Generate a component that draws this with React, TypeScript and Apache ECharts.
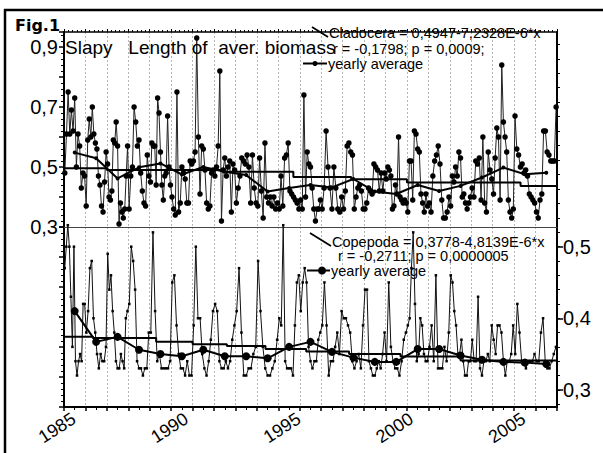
import React, { useEffect, useRef } from "react";
import * as echarts from "echarts";

// Cladocera: values per year (year index 0..22)
const cladocera: number[][] = [
  [0.48, 0.61, 0.75, 0.61, 0.69, 0.62, 0.73, 0.50, 0.61, 0.57, 0.43, 0.48, 0.47],
  [0.37, 0.59, 0.66, 0.60, 0.70, 0.61, 0.58, 0.56, 0.47, 0.44, 0.37, 0.35, 0.45, 0.55],
  [0.51, 0.40, 0.39, 0.42, 0.59, 0.58, 0.65, 0.57, 0.31, 0.38, 0.35, 0.33, 0.36, 0.47, 0.57],
  [0.36, 0.47, 0.50, 0.70, 0.65, 0.57, 0.59, 0.48, 0.42, 0.38, 0.37, 0.54, 0.47],
  [0.45, 0.58, 0.57, 0.57, 0.44, 0.73, 0.68, 0.55, 0.44, 0.39, 0.47, 0.48, 0.67, 0.50, 0.44],
  [0.40, 0.36, 0.34, 0.75, 0.35, 0.38, 0.50, 0.48, 0.46, 0.38, 0.38, 0.52, 0.51],
  [0.52, 0.55, 0.93, 0.60, 0.41, 0.57, 0.56, 0.49, 0.38, 0.36, 0.37, 0.48, 0.49],
  [0.47, 0.50, 0.57, 0.82, 0.32, 0.49, 0.53, 0.47, 0.50, 0.52, 0.35, 0.51, 0.49],
  [0.38, 0.43, 0.47, 0.53, 0.52, 0.51, 0.54, 0.50, 0.38, 0.54, 0.43, 0.38],
  [0.37, 0.53, 0.42, 0.33, 0.58, 0.40, 0.38, 0.40, 0.37, 0.40, 0.36, 0.38],
  [0.36, 0.47, 0.37, 0.53, 0.54, 0.58, 0.42, 0.41, 0.40, 0.39, 0.38, 0.36],
  [0.39, 0.36, 0.74, 0.40, 0.55, 0.51, 0.50, 0.43, 0.36, 0.32, 0.36, 0.36, 0.39],
  [0.36, 0.43, 0.62, 0.50, 0.43, 0.36, 0.50, 0.43, 0.36, 0.35, 0.40],
  [0.36, 0.42, 0.57, 0.58, 0.55, 0.54, 0.36, 0.40, 0.43, 0.44, 0.42, 0.36],
  [0.36, 0.38, 0.43, 0.42, 0.41, 0.51, 0.50, 0.49, 0.42, 0.48, 0.42, 0.48],
  [0.46, 0.50, 0.49, 0.47, 0.36, 0.37, 0.44, 0.41, 0.60, 0.40, 0.39, 0.38, 0.39, 0.38],
  [0.35, 0.52, 0.52, 0.39, 0.62, 0.61, 0.56, 0.55, 0.41, 0.38, 0.35, 0.41, 0.37],
  [0.38, 0.35, 0.47, 0.52, 0.54, 0.57, 0.51, 0.39, 0.33, 0.33, 0.35, 0.40],
  [0.37, 0.47, 0.45, 0.50, 0.47, 0.55, 0.53, 0.40, 0.41, 0.38, 0.36, 0.38, 0.40],
  [0.43, 0.40, 0.52, 0.51, 0.53, 0.39, 0.60, 0.38, 0.35, 0.55, 0.49, 0.46],
  [0.41, 0.53, 0.63, 0.60, 0.39, 0.84, 0.65, 0.60, 0.55, 0.39, 0.35, 0.33, 0.36],
  [0.67, 0.56, 0.54, 0.50, 0.51, 0.48, 0.49, 0.47, 0.41, 0.40, 0.39, 0.38],
  [0.35, 0.33, 0.39, 0.41, 0.62, 0.62, 0.55, 0.54, 0.52, 0.52, 0.52, 0.70],
];
const cladoceraAvg = [
  0.548, 0.529, 0.462, 0.499, 0.512, 0.475, 0.500, 0.484, 0.473, 0.418, 0.430, 0.440,
  0.432, 0.460, 0.418, 0.410, 0.440, 0.420, 0.437, 0.465, 0.498, 0.476, 0.481,
];
const cladTrendBreaks = [0, 2.0, 7.5, 10.7, 13.4, 16.0, 21.3, 23];
const cladTrendLevels = [0.496, 0.490, 0.484, 0.467, 0.459, 0.448, 0.437];

// Copepoda: values per year
const copepoda: number[][] = [
  [0.47, 0.50, 0.53, 0.50, 0.43, 0.36, 0.50, 0.34, 0.32, 0.34, 0.35, 0.34, 0.42, 0.42],
  [0.38, 0.41, 0.47, 0.48, 0.40, 0.38, 0.35, 0.33, 0.35, 0.34, 0.34, 0.36],
  [0.49, 0.44, 0.46, 0.41, 0.38, 0.34, 0.33, 0.33, 0.35, 0.34, 0.33, 0.40, 0.41],
  [0.42, 0.50, 0.48, 0.44, 0.34, 0.33, 0.33, 0.32, 0.33, 0.33, 0.38],
  [0.38, 0.52, 0.41, 0.34, 0.35, 0.33, 0.33, 0.33, 0.33, 0.34],
  [0.45, 0.46, 0.39, 0.35, 0.33, 0.33, 0.32, 0.34, 0.32, 0.32],
  [0.39, 0.50, 0.40, 0.40, 0.35, 0.33, 0.32, 0.34, 0.37, 0.41],
  [0.42, 0.41, 0.34, 0.33, 0.33, 0.34, 0.33, 0.34, 0.37, 0.39],
  [0.41, 0.47, 0.38, 0.32, 0.32, 0.33, 0.33, 0.35, 0.36],
  [0.48, 0.41, 0.36, 0.33, 0.32, 0.32, 0.33, 0.34, 0.37],
  [0.40, 0.39, 0.53, 0.34, 0.33, 0.33, 0.33, 0.32, 0.39, 0.45, 0.46],
  [0.41, 0.45, 0.47, 0.45, 0.36, 0.34, 0.33, 0.34, 0.34, 0.37, 0.38],
  [0.39, 0.45, 0.39, 0.32, 0.34, 0.34, 0.36, 0.38, 0.35, 0.41],
  [0.40, 0.40, 0.39, 0.38, 0.34, 0.33, 0.34, 0.35, 0.33, 0.39],
  [0.44, 0.44, 0.34, 0.33, 0.32, 0.32, 0.33, 0.34, 0.33, 0.35, 0.38],
  [0.34, 0.45, 0.36, 0.34, 0.33, 0.33, 0.32, 0.34, 0.37, 0.38],
  [0.39, 0.40, 0.47, 0.52, 0.42, 0.34, 0.35, 0.40, 0.39, 0.35, 0.34, 0.34],
  [0.36, 0.39, 0.34, 0.46, 0.33, 0.33, 0.33, 0.36, 0.34, 0.38],
  [0.46, 0.45, 0.41, 0.39, 0.35, 0.35, 0.37, 0.34, 0.32, 0.32, 0.34, 0.34],
  [0.37, 0.34, 0.34, 0.43, 0.33, 0.32, 0.34, 0.34, 0.35, 0.34, 0.39],
  [0.37, 0.35, 0.39, 0.39, 0.38, 0.34, 0.32, 0.34, 0.34, 0.35, 0.39],
  [0.35, 0.42, 0.38, 0.34, 0.34, 0.33, 0.34, 0.34, 0.34, 0.35],
  [0.34, 0.34, 0.38, 0.40, 0.34, 0.33, 0.33, 0.34, 0.35, 0.36],
];
const copepodaAvg = [
  0.410, 0.367, 0.374, 0.356, 0.350, 0.347, 0.356, 0.347, 0.347, 0.344, 0.360, 0.367,
  0.353, 0.345, 0.339, 0.339, 0.357, 0.357, 0.348, 0.342, 0.339, 0.338, 0.336,
];
const copTrendBreaks = [0, 1.35, 4.3, 6.0, 7.6, 9.4, 11.3, 13.3, 15.7, 18.5, 23];
const copTrendLevels = [0.3743, 0.3725, 0.3673, 0.3637, 0.3613, 0.3571, 0.3534, 0.3501, 0.3464, 0.341];

const yearLabels = [1985, 1990, 1995, 2000, 2005];
const leftTickLabels = [0.3, 0.5, 0.7, 0.9];
const rightTickLabels = [0.3, 0.4, 0.5];
const rightMinorTicks = [0.28, 0.3, 0.32, 0.34, 0.36, 0.38, 0.4, 0.42, 0.44, 0.46, 0.48, 0.5, 0.52];
const rightTopTicks = [0.54, 0.56, 0.58, 0.6, 0.62, 0.64, 0.66, 0.68, 0.7, 0.72, 0.74, 0.76, 0.78];

const titleText = "Slapy\u00a0\u00a0 Length of\u00a0 aver. biomass";
const cladLegend1 = "Cladocera = 0,4947-7,2328E-6*x";
const cladLegend2 = "r = -0,1798; p = 0,0009;";
const copLegend1 = "Copepoda = 0,3778-4,8139E-6*x";
const copLegend2 = "r = -0,2711; p = 0,0000005";
const avgLegend = "yearly average";

function spread(years: number[][]) {
  const out: number[][] = [];
  years.forEach((vals, k) =>
    vals.forEach((v, i) => out.push([k + (i + 0.5) / vals.length, v]))
  );
  return out;
}
function yearly(vals: number[]) {
  return vals.map((v, k) => [k + 0.5, v]);
}
function steps(breaks: number[], levels: number[]) {
  const out: number[][] = [];
  levels.forEach((l, i) => {
    out.push([breaks[i], l]);
    out.push([breaks[i + 1], l]);
  });
  return out;
}
const fmt = (v: number) => v.toFixed(1).replace(".", ",");

const FONT = "'Liberation Sans', Arial, sans-serif";
const BLACK = "#000";
const LEG = `14.5px ${FONT}`;

export default function App() {
  const ref = useRef<HTMLDivElement>(null);
  useEffect(() => {
    if (!ref.current) return;
    const chart = echarts.init(ref.current, undefined, { renderer: "svg" });
    const axisLineStyle = { color: BLACK, width: 2 };
    const legendText = (text: string, x: number, y: number) => ({
      type: "text", x, y, z: 10,
      style: { text, font: LEG, fill: BLACK, textAlign: "left", textVerticalAlign: "middle" },
    });
    const option: any = {
      animation: false,
      backgroundColor: "#fff",
      grid: [
        { left: 64, top: 32, width: 493, height: 195 },
        { left: 64, top: 227, width: 493, height: 180 },
      ],
      xAxis: [
        {
          gridIndex: 0, type: "value", min: 0, max: 23, interval: 1, position: "bottom",
          axisLine: { show: true, onZero: false, lineStyle: { color: "#444", width: 1 } },
          axisTick: { show: false }, axisLabel: { show: false },
          splitLine: { show: true, lineStyle: { color: "#b5b5b5", type: [2, 2], width: 1 } },
        },
        {
          gridIndex: 0, type: "value", min: 0, max: 23, interval: 1, position: "top",
          axisLine: { show: true, onZero: false, lineStyle: { color: BLACK, width: 1.5 } },
          axisTick: { show: true, length: 3, lineStyle: { color: BLACK } },
          minorTick: { show: true, splitNumber: 5, length: 2, lineStyle: { color: BLACK } },
          axisLabel: { show: false }, splitLine: { show: false },
        },
        {
          gridIndex: 1, type: "value", min: 0, max: 23, interval: 1, position: "bottom",
          axisLine: { show: true, onZero: false, lineStyle: axisLineStyle },
          axisTick: { show: true, length: 4, lineStyle: { color: BLACK, width: 1.5 } },
          minorTick: { show: true, splitNumber: 2, length: 3, lineStyle: { color: BLACK } },
          axisLabel: { show: false },
          splitLine: { show: true, lineStyle: { color: "#b5b5b5", type: [2, 2], width: 1 } },
        },
        {
          gridIndex: 1, type: "value", min: 1984.56, max: 2006.48, position: "bottom",
          axisLine: { show: false, onZero: false }, axisTick: { show: false }, splitLine: { show: false },
          axisLabel: {
            customValues: yearLabels, rotate: 33, margin: 10,
            formatter: (v: number) => String(Math.round(v)),
            fontSize: 18, color: BLACK, fontFamily: FONT,
          },
        },
      ],
      yAxis: [
        {
          gridIndex: 0, type: "value", position: "left", min: 0.3, max: 0.95, interval: 0.1,
          axisLine: { show: true, onZero: false, lineStyle: axisLineStyle },
          axisTick: { show: true, length: 5, lineStyle: { color: BLACK, width: 1.5 } },
          minorTick: { show: true, splitNumber: 5, length: 3, lineStyle: { color: BLACK } },
          splitLine: { show: false },
          axisLabel: { customValues: leftTickLabels, formatter: fmt, fontSize: 20, color: BLACK, fontFamily: FONT, margin: 6 },
        },
        {
          gridIndex: 0, type: "value", position: "right", min: 0.5275, max: 0.797,
          axisLine: { show: true, onZero: false, lineStyle: axisLineStyle },
          axisTick: { show: true, customValues: rightTopTicks, length: 3, lineStyle: { color: BLACK } },
          axisLabel: { show: false }, splitLine: { show: false },
        },
        {
          gridIndex: 1, type: "value", position: "left", min: -0.3, max: 0.3, interval: 0.1,
          axisLine: { show: true, onZero: false, lineStyle: axisLineStyle },
          axisTick: { show: true, length: 5, lineStyle: { color: BLACK, width: 1.5 } },
          minorTick: { show: true, splitNumber: 5, length: 3, lineStyle: { color: BLACK } },
          axisLabel: { show: false }, splitLine: { show: false },
        },
        {
          gridIndex: 1, type: "value", position: "right", min: 0.276, max: 0.5275,
          axisLine: { show: true, onZero: false, lineStyle: axisLineStyle },
          axisTick: { show: true, customValues: rightTickLabels, length: 6, lineStyle: { color: BLACK, width: 1.5 } },
          axisLabel: { customValues: rightTickLabels, formatter: fmt, fontSize: 20, color: BLACK, fontFamily: FONT, margin: 6 },
          splitLine: { show: false },
        },
        {
          gridIndex: 1, type: "value", position: "right", min: 0.276, max: 0.5275,
          axisLine: { show: false, onZero: false },
          axisTick: { show: true, customValues: rightMinorTicks, length: 3, lineStyle: { color: BLACK } },
          axisLabel: { show: false }, splitLine: { show: false },
        },
      ],
      series: [
        {
          type: "line", xAxisIndex: 0, yAxisIndex: 0, data: spread(cladocera),
          symbol: "circle", symbolSize: 5.5, lineStyle: { color: "#222", width: 1 },
          itemStyle: { color: BLACK }, z: 2, silent: true,
        },
        {
          type: "line", xAxisIndex: 0, yAxisIndex: 0, data: yearly(cladoceraAvg),
          symbol: "circle", symbolSize: 4, lineStyle: { color: BLACK, width: 2 },
          itemStyle: { color: BLACK }, z: 3, silent: true,
        },
        {
          type: "line", xAxisIndex: 0, yAxisIndex: 0, data: steps(cladTrendBreaks, cladTrendLevels),
          symbol: "none", lineStyle: { color: BLACK, width: 2 }, z: 3, silent: true,
        },
        {
          type: "line", xAxisIndex: 2, yAxisIndex: 3, data: spread(copepoda), clip: false,
          symbol: "rect", symbolSize: 2.5, lineStyle: { color: "#111", width: 1 },
          itemStyle: { color: BLACK }, z: 2, silent: true,
        },
        {
          type: "line", xAxisIndex: 2, yAxisIndex: 3, data: yearly(copepodaAvg),
          symbol: "circle", symbolSize: 8, lineStyle: { color: BLACK, width: 2 },
          itemStyle: { color: BLACK }, z: 3, silent: true,
        },
        {
          type: "line", xAxisIndex: 2, yAxisIndex: 3, data: steps(copTrendBreaks, copTrendLevels),
          symbol: "none", lineStyle: { color: BLACK, width: 2 }, z: 3, silent: true,
        },
      ],
      graphic: [
        { type: "line", shape: { x1: 4, y1: 10, x2: 603, y2: 10 }, style: { stroke: BLACK, lineWidth: 2.5 } },
        { type: "line", shape: { x1: 5, y1: 9, x2: 5, y2: 453 }, style: { stroke: BLACK, lineWidth: 2.5 } },
        {
          type: "text", x: 15, y: 25,
          style: { text: "Fig.1", font: "bold 16px 'DejaVu Sans', sans-serif", fill: BLACK, textAlign: "left", textVerticalAlign: "middle" },
        },
        {
          type: "text", x: 65, y: 47, z: 10,
          style: { text: titleText, font: `19px ${FONT}`, fill: BLACK, textAlign: "left", textVerticalAlign: "middle" },
        },
        { type: "line", shape: { x1: 312, y1: 27, x2: 328, y2: 37 }, style: { stroke: BLACK, lineWidth: 1.8 }, z: 10 },
        legendText(cladLegend1, 329, 33),
        legendText(cladLegend2, 333, 48.5),
        { type: "line", shape: { x1: 303, y1: 63.5, x2: 327, y2: 63.5 }, style: { stroke: BLACK, lineWidth: 2 }, z: 10 },
        { type: "circle", shape: { cx: 315, cy: 63.5, r: 2.5 }, style: { fill: BLACK }, z: 10 },
        legendText(avgLegend, 328, 63.5),
        { type: "line", shape: { x1: 310, y1: 233, x2: 331, y2: 246 }, style: { stroke: BLACK, lineWidth: 1.8 }, z: 10 },
        legendText(copLegend1, 332, 241.5),
        legendText(copLegend2, 338, 256),
        { type: "line", shape: { x1: 307, y1: 270.5, x2: 330, y2: 270.5 }, style: { stroke: BLACK, lineWidth: 2 }, z: 10 },
        { type: "circle", shape: { cx: 322, cy: 270.5, r: 4 }, style: { fill: BLACK }, z: 10 },
        legendText(avgLegend, 331, 270.5),
      ],
    };
    chart.setOption(option);
    return () => chart.dispose();
  }, []);
  return (
    <div
      ref={ref}
      style={{ position: "absolute", left: 0, top: 0, width: 603, height: 453, background: "#fff" }}
    />
  );
}
